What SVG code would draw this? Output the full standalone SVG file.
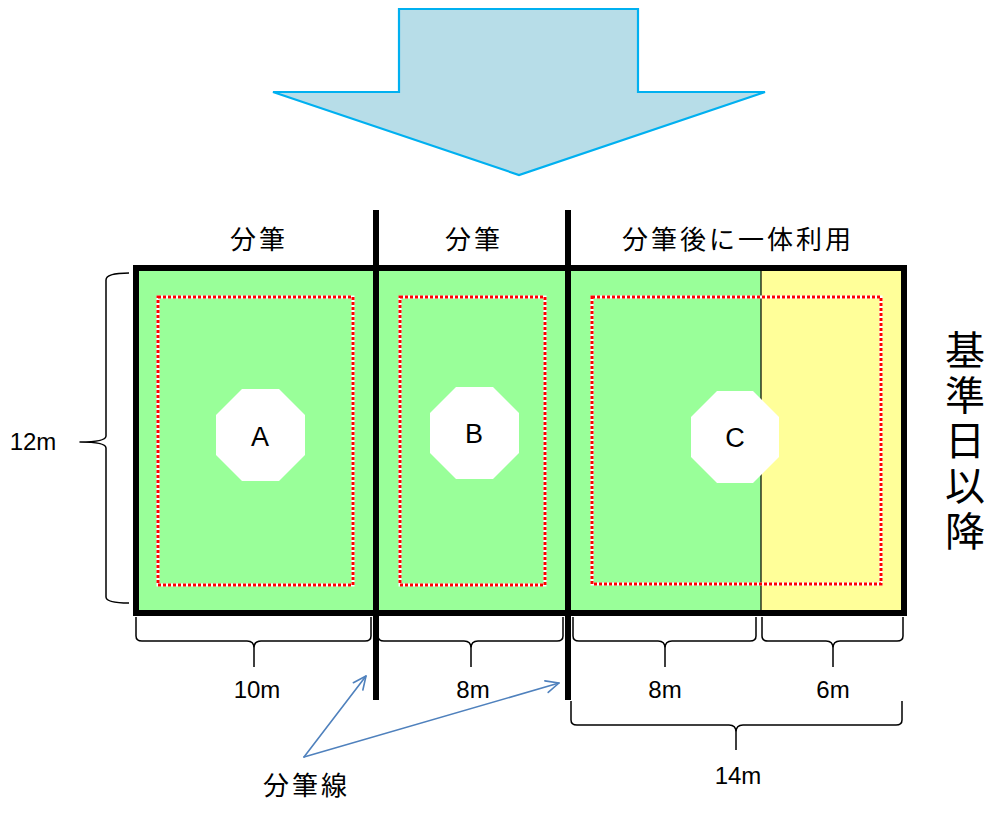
<svg xmlns="http://www.w3.org/2000/svg" width="989" height="832" viewBox="0 0 989 832">
<defs>
<style>
.jp{font-family:"Noto Sans CJK JP","Liberation Sans",sans-serif;fill:#000;}
.lbl{font-size:26px;letter-spacing:3px;}
.dim{font-family:"Liberation Sans","Noto Sans CJK JP",sans-serif;font-size:24px;fill:#000;text-anchor:middle;}
.abc{font-family:"Liberation Sans",sans-serif;font-size:27px;fill:#000;text-anchor:middle;}
.oct{fill:#fff;}
.dotw{fill:none;stroke:#fff;stroke-width:3;}
.dotr{fill:none;stroke:#f00;stroke-width:3;stroke-dasharray:3 2;}
.brace{fill:none;stroke:#000;stroke-width:1.5;stroke-linejoin:round;}
.conn{fill:none;stroke:#4F81BD;stroke-width:1.6;stroke-linecap:round;stroke-linejoin:round;}
</style>
<marker id="open" viewBox="0 0 16 16" refX="15" refY="8" markerWidth="16" markerHeight="16" markerUnits="userSpaceOnUse" orient="auto">
<path d="M2,2 L15,8 L2,14" fill="none" stroke="#4F81BD" stroke-width="1.6" stroke-linecap="round" stroke-linejoin="round"/>
</marker>
</defs>
<rect width="989" height="832" fill="#fff"/>

<g id="big-arrow">
<polygon points="399,9 638,9 638,92 765,92 519,175 273,92 399,92" fill="#B7DDE8" stroke="#00B0F0" stroke-width="2.2" stroke-linejoin="miter"/>
</g>

<g id="lot-fill">
<rect x="136" y="268" width="768" height="345" fill="#99FF99"/>
<rect x="761" y="268" width="143" height="345" fill="#FFFF99"/>
<line x1="761" y1="268" x2="761" y2="613" stroke="#000" stroke-width="1.2"/>
</g>

<g id="setback-A">
<rect class="dotw" x="158" y="297" width="195" height="288"/>
<rect class="dotr" x="158" y="297" width="195" height="288"/>
</g>
<g id="setback-B">
<rect class="dotw" x="400" y="297" width="145" height="288"/>
<rect class="dotr" x="400" y="297" width="145" height="288"/>
</g>
<g id="setback-C">
<rect class="dotw" x="592" y="297" width="289" height="287"/>
<rect class="dotr" x="592" y="297" width="289" height="287"/>
</g>

<g id="node-A">
<polygon class="oct" points="242,389 279,389 305,415 305,455 279,481 242,481 216,455 216,415"/>
<text class="abc" x="260" y="446">A</text>
</g>
<g id="node-B">
<polygon class="oct" points="456,387 493,387 519,413 519,453 493,479 456,479 430,453 430,413"/>
<text class="abc" x="474" y="443">B</text>
</g>
<g id="node-C">
<polygon class="oct" points="717,391 753,391 779,417 779,457 753,483 717,483 691,457 691,417"/>
<text class="abc" x="735" y="447">C</text>
</g>

<g id="lot-border">
<rect x="136" y="268" width="768" height="345" fill="none" stroke="#000" stroke-width="6"/>
<line x1="376" y1="210" x2="376" y2="700" stroke="#000" stroke-width="6"/>
<line x1="568" y1="210" x2="568" y2="700" stroke="#000" stroke-width="6"/>
</g>

<g id="top-labels">
<text class="jp lbl" x="230" y="249">分筆</text>
<text class="jp lbl" x="445" y="249">分筆</text>
<text class="jp lbl" x="622" y="249">分筆後に一体利用</text>
</g>

<g id="side-label">
<text class="jp" font-size="40" text-anchor="middle"><tspan x="965" y="365">基</tspan><tspan x="965" y="410">準</tspan><tspan x="965" y="455">日</tspan><tspan x="965" y="500">以</tspan><tspan x="965" y="546">降</tspan></text>
</g>

<g id="dimensions">
<path class="brace" d="M129,273 Q106,273 106,280 L106,436 Q106,442 80,442 Q106,442 106,448 L106,597 Q106,603 129,603"/>
<text class="dim" x="33" y="450">12m</text>

<path class="brace" d="M136,617 L136,636 Q136,641 142,641 L247,641 Q254,641 254,648 L254,667 M254,648 Q254,641 261,641 L365,641 Q371,641 371,636 L371,617"/>
<text class="dim" x="257" y="698">10m</text>

<path class="brace" d="M378,617 L378,636 Q378,641 384,641 L464,641 Q471,641 471,648 L471,667 M471,648 Q471,641 478,641 L557,641 Q563,641 563,636 L563,617"/>
<text class="dim" x="473" y="698">8m</text>

<path class="brace" d="M573,617 L573,636 Q573,641 579,641 L658,641 Q665,641 665,648 L665,667 M665,648 Q665,641 672,641 L750,641 Q756,641 756,636 L756,617"/>
<text class="dim" x="665" y="698">8m</text>

<path class="brace" d="M762,617 L762,636 Q762,641 768,641 L826,641 Q833,641 833,648 L833,667 M833,648 Q833,641 840,641 L897,641 Q903,641 903,636 L903,617"/>
<text class="dim" x="833" y="698">6m</text>

<path class="brace" d="M571,701 L571,720 Q571,725 577,725 L729,725 Q736,725 736,732 L736,750 M736,732 Q736,725 743,725 L896,725 Q902,725 902,720 L902,701"/>
<text class="dim" x="738" y="784">14m</text>
</g>

<g id="connectors">
<line class="conn" x1="304" y1="757" x2="366" y2="676" marker-end="url(#open)"/>
<line class="conn" x1="304" y1="757" x2="559" y2="683" marker-end="url(#open)"/>
</g>

<g id="line-label">
<text class="jp lbl" x="263" y="795">分筆線</text>
</g>
</svg>
